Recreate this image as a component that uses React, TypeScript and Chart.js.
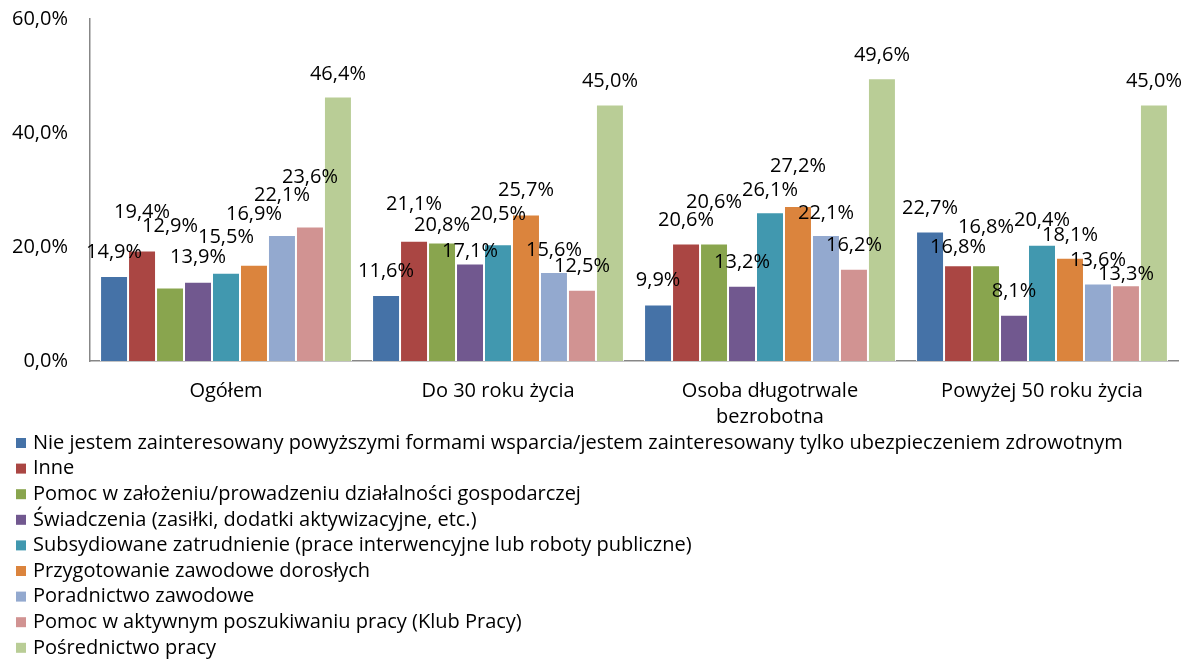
import { useEffect, useRef } from 'react';
import { Chart, registerables } from 'chart.js';

Chart.register(...registerables);

// ---- Data ----
const CATEGORIES: string[][] = [
  ['Ogółem'],
  ['Do 30 roku życia'],
  ['Osoba długotrwale', 'bezrobotna'],
  ['Powyżej 50 roku życia'],
];

const SERIES_NAMES = [
  'Nie jestem zainteresowany powyższymi formami wsparcia/jestem zainteresowany tylko ubezpieczeniem zdrowotnym',
  'Inne',
  'Pomoc w założeniu/prowadzeniu działalności gospodarczej',
  'Świadczenia (zasiłki, dodatki aktywizacyjne, etc.)',
  'Subsydiowane zatrudnienie (prace interwencyjne lub roboty publiczne)',
  'Przygotowanie zawodowe dorosłych',
  'Poradnictwo zawodowe',
  'Pomoc w aktywnym poszukiwaniu pracy (Klub Pracy)',
  'Pośrednictwo pracy',
];

const nieZainteresowany = [14.9, 11.6, 9.9, 22.7];
const inne = [19.4, 21.1, 20.6, 16.8];
const pomocDzialalnosc = [12.9, 20.8, 20.6, 16.8];
const swiadczenia = [13.9, 17.1, 13.2, 8.1];
const subsydiowane = [15.5, 20.5, 26.1, 20.4];
const przygotowanie = [16.9, 25.7, 27.2, 18.1];
const poradnictwo = [22.1, 15.6, 22.1, 13.6];
const klubPracy = [23.6, 12.5, 16.2, 13.3];
const posrednictwo = [46.4, 45.0, 49.6, 45.0];

const SERIES_VALUES = [
  nieZainteresowany, inne, pomocDzialalnosc, swiadczenia, subsydiowane,
  przygotowanie, poradnictwo, klubPracy, posrednictwo,
];

const Y_TICKS = [0, 20, 40, 60];

// ---- Style ----
const COLORS = ['#4572A7', '#AA4643', '#89A54E', '#71588F', '#4198AF', '#DB843D', '#93A9CF', '#D19392', '#B9CD96'];
// vertical lift (px) of each value label above its bar (labels were hand-placed in the original)
const LABEL_LIFT = [
  [24, 24, 24, 23],
  [38, 36, 23, 18],
  [61, 17, 41, 38],
  [24, 12, 23, 24],
  [35, 30, 22, 24],
  [50, 24, 40, 23],
  [40, 22, 22, 23],
  [49, 23, 23, 11],
  [22, 23, 23, 23],
];
const FONT_FAMILY = '"Open Sans", Lato, sans-serif';
const FONT_SIZE = 20;
const AXIS_COLOR = '#878787';

const fmt = (v: number) => v.toFixed(1).replace('.', ',') + '%';

const valueLabels = {
  id: 'valueLabels',
  afterDatasetsDraw(chart: any) {
    const ctx = chart.ctx;
    ctx.save();
    ctx.font = `${FONT_SIZE}px ${FONT_FAMILY}`;
    ctx.fillStyle = '#000';
    ctx.textAlign = 'center';
    ctx.textBaseline = 'middle';
    chart.data.datasets.forEach((ds: any, di: number) => {
      const meta = chart.getDatasetMeta(di);
      meta.data.forEach((bar: any, i: number) => {
        ctx.fillText(fmt(ds.data[i]), bar.x, bar.y - LABEL_LIFT[di][i]);
      });
    });
    ctx.restore();
  },
};

const listLegend = {
  id: 'listLegend',
  afterDraw(chart: any) {
    const ctx = chart.ctx;
    const top = chart.chartArea.bottom + 82;
    const step = 25.6;
    ctx.save();
    ctx.font = `${FONT_SIZE}px ${FONT_FAMILY}`;
    ctx.textAlign = 'left';
    ctx.textBaseline = 'middle';
    chart.data.datasets.forEach((ds: any, i: number) => {
      const y = top + i * step;
      ctx.fillStyle = ds.backgroundColor;
      ctx.fillRect(16, y - 5, 10, 10);
      ctx.fillStyle = '#000';
      ctx.fillText(ds.label, 33, y);
    });
    ctx.restore();
  },
};

export default function App() {
  const ref = useRef<HTMLCanvasElement>(null);

  useEffect(() => {
    if (!ref.current) return;
    const chart = new Chart(ref.current, {
      type: 'bar',
      data: {
        labels: CATEGORIES,
        datasets: SERIES_VALUES.map((vals, i) => ({
          label: SERIES_NAMES[i],
          data: vals,
          backgroundColor: COLORS[i],
          borderColor: '#ffffff',
          borderWidth: 1,
          categoryPercentage: 0.926,
          barPercentage: 1,
        })),
      },
      options: {
        responsive: false,
        animation: false,
        layout: { padding: { top: 19, right: 4, left: 0, bottom: 235 } },
        plugins: {
          legend: { display: false },
          tooltip: { enabled: false },
        },
        scales: {
          x: {
            grid: { display: false, drawTicks: false },
            border: { display: true, color: AXIS_COLOR, width: 1.5 },
            ticks: {
              color: '#000',
              font: { family: FONT_FAMILY, size: FONT_SIZE, lineHeight: 1.3 },
              padding: 17,
              maxRotation: 0,
              autoSkip: false,
            },
            afterFit: (s: any) => { s.height = 64; s.paddingLeft = 0; s.paddingRight = 0; },
          },
          y: {
            min: 0,
            max: 60,
            afterBuildTicks: (s: any) => { s.ticks = Y_TICKS.map((v) => ({ value: v })); },
            grid: { display: false, drawTicks: false },
            border: { display: true, color: AXIS_COLOR, width: 1.5 },
            ticks: {
              color: '#000',
              font: { family: FONT_FAMILY, size: FONT_SIZE },
              padding: 22,
              callback: (v: any) => fmt(Number(v)),
            },
            afterFit: (s: any) => { s.width = 90; s.paddingTop = 0; s.paddingBottom = 0; },
          },
        },
      },
      plugins: [valueLabels, listLegend],
    });
    return () => chart.destroy();
  }, []);

  return (
    <div style={{ position: 'absolute', left: 0, top: 0, width: 1182, height: 660, background: '#fff' }}>
      <canvas ref={ref} width={1182} height={660} style={{ display: 'block' }} />
    </div>
  );
}
